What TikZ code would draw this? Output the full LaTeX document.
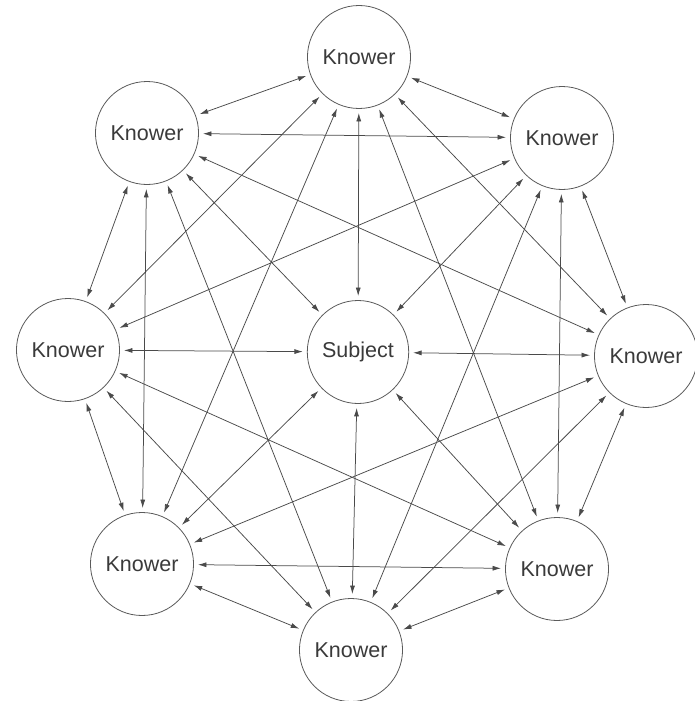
\documentclass[tikz,border=0pt]{standalone}
\usepackage{fontspec}
\setmainfont{Liberation Sans}
\usetikzlibrary{arrows.meta,shapes.geometric}
\definecolor{linegray}{HTML}{4A4A4A}
\definecolor{circgray}{HTML}{5A5A5A}
\definecolor{textgray}{HTML}{3A3A3A}
\begin{document}
\begin{tikzpicture}[x=1pt,y=-1pt,
  person/.style={ellipse,draw=circgray,line width=0.8pt,minimum width=99pt,minimum height=103pt,inner sep=0pt,
    font=\fontsize{21.5}{24}\selectfont,text=textgray},
  link/.style={draw=linegray,line width=0.75pt,{Latex[length=8.5pt,width=5pt]}-{Latex[length=8.5pt,width=5pt]},shorten <=4pt,shorten >=4pt}]
\useasboundingbox (0,0) rectangle (695,701);
\node[person] (T)  at (359,57)  {Knower};
\node[person] (TL) at (147,133) {Knower};
\node[person] (TR) at (562,138) {Knower};
\node[person] (L)  at (68,350)  {Knower};
\node[person] (S)  at (358,352) {Subject};
\node[person] (R)  at (646,356) {Knower};
\node[person] (BL) at (142,564) {Knower};
\node[person] (BR) at (557,569) {Knower};
\node[person] (B)  at (351,650) {Knower};
% subject links
\foreach \n in {T,TL,TR,L,R,BL,BR,B} \draw[link] (S) -- (\n);
% ring links (opposite pairs go through subject)
\draw[link] (T) -- (TL);
\draw[link] (T) -- (TR);
\draw[link] (T) -- (L);
\draw[link] (T) -- (R);
\draw[link] (T) -- (BL);
\draw[link] (T) -- (BR);
\draw[link] (TL) -- (TR);
\draw[link] (TL) -- (L);
\draw[link] (TL) -- (R);
\draw[link] (TL) -- (BL);
\draw[link] (TL) -- (B);
\draw[link] (TR) -- (L);
\draw[link] (TR) -- (R);
\draw[link] (TR) -- (BR);
\draw[link] (TR) -- (B);
\draw[link] (L) -- (BL);
\draw[link] (L) -- (BR);
\draw[link] (L) -- (B);
\draw[link] (R) -- (BL);
\draw[link] (R) -- (BR);
\draw[link] (R) -- (B);
\draw[link] (BL) -- (BR);
\draw[link] (BL) -- (B);
\draw[link] (BR) -- (B);
\end{tikzpicture}
\end{document}
